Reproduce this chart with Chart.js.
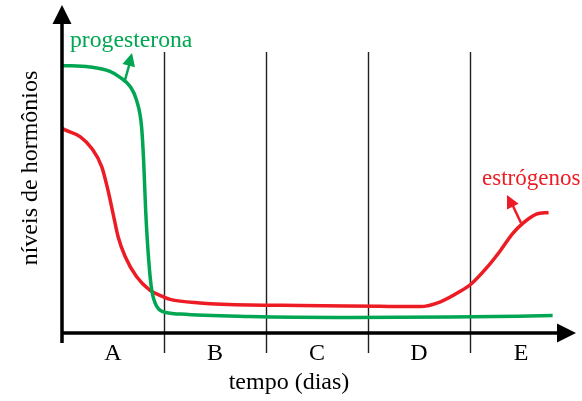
<!DOCTYPE html>
<html>
<head>
<meta charset="utf-8">
<script src="https://cdn.jsdelivr.net/npm/chart.js@4.4.1/dist/chart.umd.min.js"></script>
<style>
  html, body { margin: 0; padding: 0; background: #fff; }
  #wrap { width: 582px; height: 401px; }
</style>
</head>
<body>
<div id="wrap"><canvas id="hormoneChart" width="582" height="401"></canvas></div>
<script>
// categories (phases) along the time axis
const phases = ['A', 'B', 'C', 'D', 'E'];

// progesterona (x in phase units, y in relative level 0..100)
const progX = [0, 0.27, 0.47, 0.57, 0.67, 0.73, 0.78, 0.80, 0.82, 0.85, 0.88, 0.93, 0.99, 1.16, 1.84, 2.82, 3.80, 4.81];
const progY = [89.2, 88.7, 87.2, 85.2, 82.1, 77.7, 68.8, 57.7, 41, 24.3, 14.3, 8.8, 7.1, 6.3, 5.5, 5.2, 5.3, 5.8];

// estrógenos
const estX = [0, 0.03, 0.18, 0.29, 0.39, 0.45, 0.50, 0.55, 0.62, 0.73, 0.86, 0.99, 1.06, 1.35, 1.84, 2.33, 3.12, 3.51, 3.71, 3.90, 4.02, 4.16, 4.29, 4.42, 4.52, 4.65, 4.77];
const estY = [68.3, 67.7, 65.4, 61.6, 55.4, 47.7, 39.9, 32.1, 25.4, 18.8, 14.3, 12.1, 11.2, 10, 9.3, 9.2, 8.9, 8.8, 10.4, 13.8, 16.6, 21.6, 27.1, 33.2, 36.6, 39.6, 40.2];

const colors = {
    green: '#00a651',
    red: '#ed1c24',
    ink: '#000000',
    thin: '#231f20'
};

const serif = '"Liberation Serif", "Times New Roman", serif';

function toPoints(xs, ys) {
    return xs.map((x, i) => ({ x: x, y: ys[i] }));
}

function arrowHead(ctx, x0, y0, x1, y1, len, half) {
    const a = Math.atan2(y1 - y0, x1 - x0);
    ctx.beginPath();
    ctx.moveTo(x1, y1);
    ctx.lineTo(x1 - len * Math.cos(a) + half * Math.sin(a), y1 - len * Math.sin(a) - half * Math.cos(a));
    ctx.lineTo(x1 - len * Math.cos(a) - half * Math.sin(a), y1 - len * Math.sin(a) + half * Math.cos(a));
    ctx.closePath();
    ctx.fill();
}

// axes with arrows, phase dividers, labels and callouts
const decor = {
    id: 'decor',
    beforeDatasetsDraw(chart) {
        const ctx = chart.ctx;
        const xs = chart.scales.x, ys = chart.scales.y;
        ctx.save();
        ctx.strokeStyle = colors.thin;
        ctx.lineWidth = 1.4;
        for (let i = 1; i < phases.length; i++) {
            const px = Math.round(xs.getPixelForValue(i)) + 0.5;
            ctx.beginPath();
            ctx.moveTo(px, ys.getPixelForValue(93.7));
            ctx.lineTo(px, ys.bottom + 20);
            ctx.stroke();
        }
        ctx.restore();
    },
    afterDatasetsDraw(chart) {
        const ctx = chart.ctx;
        const xs = chart.scales.x, ys = chart.scales.y;
        const left = xs.left, bottom = ys.bottom;
        ctx.save();

        // axes
        ctx.strokeStyle = colors.ink;
        ctx.fillStyle = colors.ink;
        ctx.lineWidth = 3.5;
        ctx.beginPath();
        ctx.moveTo(left, bottom + 10);
        ctx.lineTo(left, 20);
        ctx.moveTo(left - 1.7, bottom);
        ctx.lineTo(557, bottom);
        ctx.stroke();
        arrowHead(ctx, left, 40, left, 5, 19, 9.5);
        arrowHead(ctx, 540, bottom, 576, bottom, 19, 9.5);

        // phase letters
        ctx.font = '24px ' + serif;
        ctx.textAlign = 'center';
        ctx.textBaseline = 'middle';
        phases.forEach((p, i) => {
            ctx.fillText(p, xs.getPixelForValue(i + 0.5), bottom + 21);
        });

        // axis titles
        ctx.fillText('tempo (dias)', 289, 383);
        ctx.save();
        ctx.translate(31, 168);
        ctx.rotate(-Math.PI / 2);
        ctx.fillText('níveis de hormônios', 0, 0);
        ctx.restore();

        // callouts
        ctx.textAlign = 'left';
        ctx.font = '23.7px ' + serif;
        ctx.fillStyle = colors.green;
        ctx.fillText('progesterona', 70, 41);
        ctx.font = '23px ' + serif;
        ctx.fillStyle = colors.red;
        ctx.fillText('estrógenos', 482, 179);

        ctx.lineWidth = 2.5;
        ctx.strokeStyle = colors.green;
        ctx.fillStyle = colors.green;
        ctx.beginPath();
        ctx.moveTo(125, 80);
        ctx.lineTo(129.5, 64);
        ctx.stroke();
        arrowHead(ctx, 125, 80, 132, 53, 13, 6.5);

        ctx.strokeStyle = colors.red;
        ctx.fillStyle = colors.red;
        ctx.beginPath();
        ctx.moveTo(521, 223);
        ctx.lineTo(513, 206);
        ctx.stroke();
        arrowHead(ctx, 521, 223, 507, 195, 13, 6.5);

        ctx.restore();
    }
};

const ctx = document.getElementById('hormoneChart').getContext('2d');
new Chart(ctx, {
    type: 'line',
    data: {
        datasets: [{
            label: 'progesterona',
            data: toPoints(progX, progY),
            borderColor: colors.green,
            borderWidth: 3.5,
            pointRadius: 0,
            cubicInterpolationMode: 'monotone',
            fill: false
        }, {
            label: 'estrógenos',
            data: toPoints(estX, estY),
            borderColor: colors.red,
            borderWidth: 3.5,
            pointRadius: 0,
            cubicInterpolationMode: 'monotone',
            fill: false
        }]
    },
    options: {
        responsive: false,
        animation: false,
        layout: { padding: { left: 62, right: 10, top: 33, bottom: 68 } },
        plugins: {
            legend: { display: false },
            tooltip: { enabled: false }
        },
        scales: {
            x: { type: 'linear', min: 0, max: phases.length, display: false },
            y: { min: 0, max: 100, display: false }
        }
    },
    plugins: [decor]
});
</script>
</body>
</html>
